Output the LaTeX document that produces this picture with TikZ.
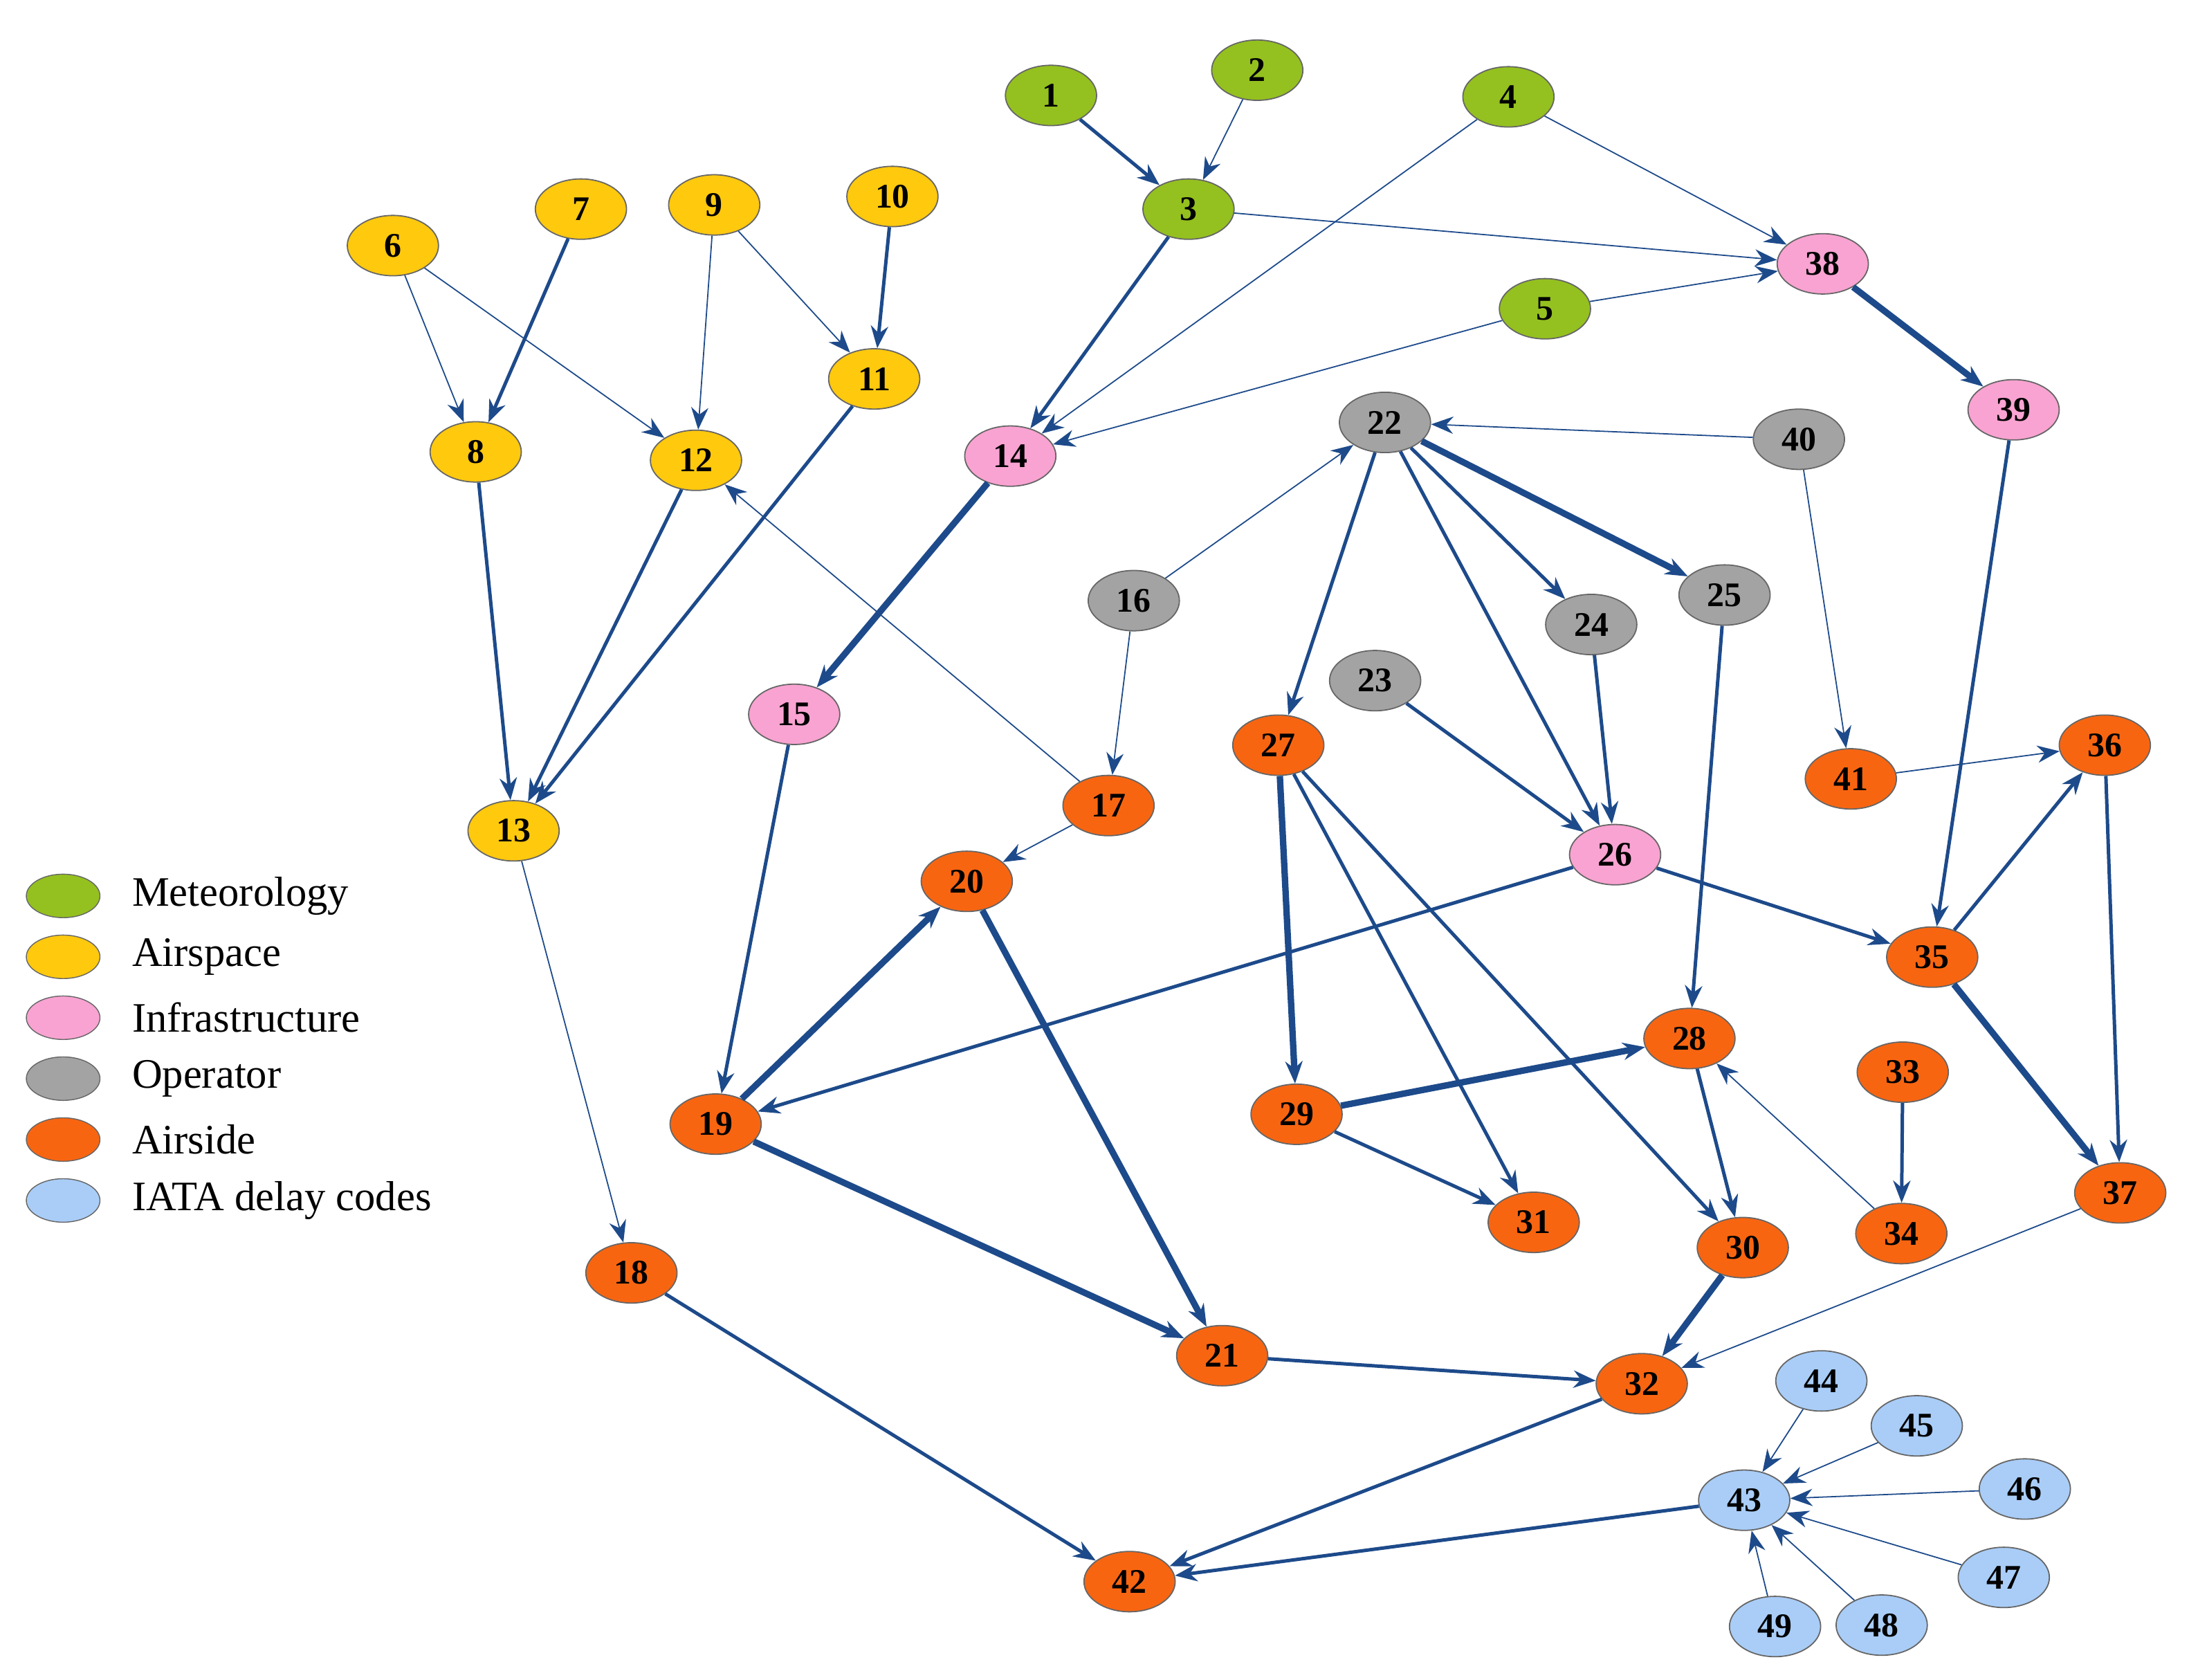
\documentclass[tikz,border=0pt]{standalone}
\usepackage{fontspec}
\setmainfont{Liberation Serif}
\usetikzlibrary{arrows.meta,shapes.geometric}
\definecolor{cM}{HTML}{94C11F}
\definecolor{cA}{HTML}{FFC90E}
\definecolor{cI}{HTML}{F9A3D2}
\definecolor{cO}{HTML}{A3A3A3}
\definecolor{cS}{HTML}{F86511}
\definecolor{cB}{HTML}{A9CDF7}
\definecolor{ed}{HTML}{1D4A8A}
\begin{document}
\begin{tikzpicture}[x=0.02cm,y=-0.02cm,
 nd/.style={ellipse,draw=black!60,line width=0.5pt,minimum width=1.3cm,minimum height=0.86cm,inner sep=0pt,font=\fontsize{14}{14}\selectfont\bfseries},
 M/.style={nd,fill=cM},A/.style={nd,fill=cA},I/.style={nd,fill=cI},O/.style={nd,fill=cO},S/.style={nd,fill=cS},B/.style={nd,fill=cB},
 e/.style={draw=ed,-{Stealth[length=9pt,width=7pt]}},
 t/.style={e,line width=0.5pt},m/.style={e,line width=1.4pt},k/.style={e,line width=2.6pt}]
\useasboundingbox (0,0) rectangle (1560,1197);
\foreach \n/\x/\y/\s in {1/749/68/M,2/896/50/M,3/847/149/M,4/1075/69/M,5/1101/220/M,
 6/280/175/A,7/414/149/A,8/339/322/A,9/509/146/A,10/636/140/A,11/623/270/A,12/496/328/A,13/366/592/A,
 14/720/325/I,15/566/509/I,38/1299/188/I,39/1435/292/I,26/1151/609/I,
 16/808/428/O,22/987/301/O,23/980/485/O,24/1134/445/O,25/1229/424/O,40/1282/313/O,
 17/790/574/S,18/450/907/S,19/510/801/S,20/689/628/S,21/871/966/S,27/911/531/S,28/1204/740/S,29/924/794/S,
 30/1242/889/S,31/1093/871/S,32/1170/986/S,33/1356/764/S,34/1355/879/S,35/1377/682/S,36/1500/531/S,
 37/1511/850/S,41/1319/555/S,42/805/1127/S,
 43/1243/1069/B,44/1298/984/B,45/1366/1016/B,46/1443/1061/B,47/1428/1124/B,48/1341/1158/B,49/1265/1159/B}
 \node[\s] (n\n) at (\x,\y) {\n};
\foreach \a/\b/\w in {1/3/m,2/3/t,3/14/m,3/38/t,4/14/t,4/38/t,5/38/t,5/14/t,38/39/k,6/8/t,6/12/t,7/8/m,
 9/12/t,9/11/t,10/11/m,8/13/m,12/13/m,11/13/m,14/15/k,17/12/t,16/22/t,16/17/t,40/22/t,22/27/m,22/24/m,
 22/25/k,22/26/m,24/26/m,23/26/m,25/28/m,40/41/t,39/35/m,41/36/t,35/36/m,36/37/m,35/37/k,26/35/m,26/19/m,
 15/19/m,17/20/t,19/20/k,20/21/k,19/21/k,27/29/k,27/31/m,27/30/m,29/28/k,29/31/m,28/30/m,34/28/t,33/34/m,
 30/32/k,21/32/m,37/32/t,13/18/t,18/42/m,32/42/m,43/42/m,44/43/t,45/43/t,46/43/t,47/43/t,48/43/t,49/43/t}
 \draw[\w] (n\a) -- (n\b);
\foreach \c/\l [count=\i] in {cM/Meteorology,cA/Airspace,cI/Infrastructure,cO/Operator,cS/Airside,cB/IATA delay codes}{
 \node[ellipse,draw=black!60,fill=\c,minimum width=1.05cm,minimum height=0.62cm] (L\i) at (45,595+43.4*\i) {};
 \node[anchor=west,font=\fontsize{17}{17}\selectfont] (T\i) at (88,595+43.4*\i) {\l};}
\end{tikzpicture}
\end{document}
